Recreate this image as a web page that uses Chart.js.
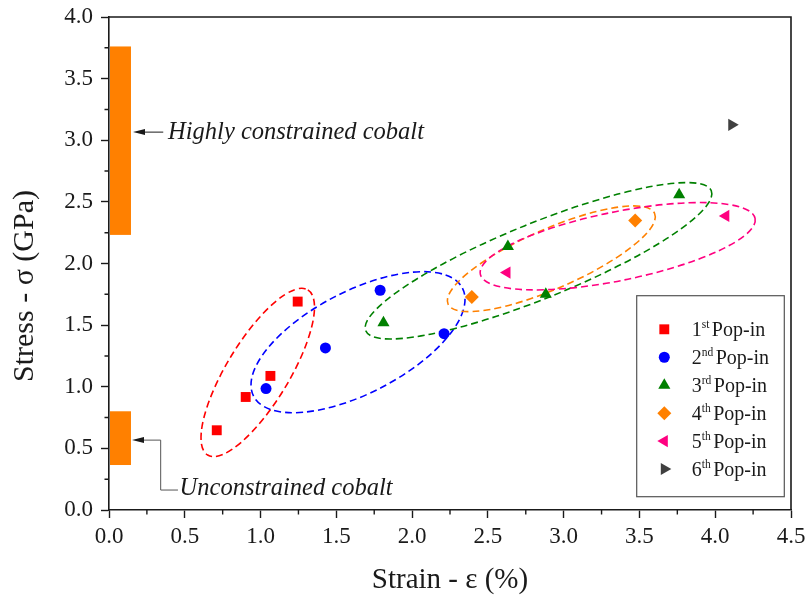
<!DOCTYPE html>
<html>
<head>
<meta charset="utf-8">
<script src="https://cdn.jsdelivr.net/npm/chart.js@4.4.1/dist/chart.umd.min.js"></script>
<style>
html,body{margin:0;padding:0;background:#fff;}
#wrap{width:811px;height:603px;position:relative;}
</style>
</head>
<body>
<div id="wrap"><canvas id="c" width="811" height="603"></canvas></div>
<script>
// ---------- data ----------
const popLabels   = ['1st Pop-in','2nd Pop-in','3rd Pop-in','4th Pop-in','5th Pop-in','6th Pop-in'];
const popOrdinals = ['1','2','3','4','5','6'];
const popSuffixes = ['st','nd','rd','th','th','th'];

const pop1Strain = [0.711, 0.902, 1.065, 1.245];
const pop1Stress = [0.647, 0.917, 1.088, 1.691];
const pop2Strain = [1.036, 1.428, 1.789, 2.211];
const pop2Stress = [0.985, 1.315, 1.783, 1.431];
const pop3Strain = [1.811, 2.632, 2.882, 3.762];
const pop3Stress = [1.520, 2.137, 1.750, 2.557];
const pop4Strain = [2.394, 3.472];
const pop4Stress = [1.729, 2.348];
const pop5Strain = [2.626, 4.070];
const pop5Stress = [1.926, 2.386];
const pop6Strain = [4.109];
const pop6Stress = [3.125];

const strainTicks = [0.0, 0.5, 1.0, 1.5, 2.0, 2.5, 3.0, 3.5, 4.0, 4.5];
const stressTicks = [0.0, 0.5, 1.0, 1.5, 2.0, 2.5, 3.0, 3.5, 4.0];

// stress ranges of the reference bands (GPa) and their strain extent
const constrainedBand   = [2.232, 3.761];
const unconstrainedBand = [0.365, 0.801];
const bandStrain        = [0.0, 0.145];
const constrainedLabel   = 'Highly constrained cobalt';
const unconstrainedLabel = 'Unconstrained cobalt';

// grouping ellipses: major-axis end points (strain, stress) and minor/major ratio
const ellipseStart  = [[0.651,0.446],[0.954,0.923],[1.694,1.454],[2.237,1.671],[2.450,1.914]];
const ellipseEnd    = [[1.312,1.786],[2.332,1.800],[3.974,2.590],[3.600,2.406],[4.263,2.366]];
const ellipseAspect = [0.323, 0.434, 0.202, 0.264, 0.245];

// ---------- styles ----------
const popColors  = ['#ff0000','#0000ff','#008000','#ff8000','#ff0080','#404040'];
const popStyles  = ['rect','circle','triangle','rectRot','triangle','triangle'];
const popRot     = [0, 0, 0, 0, -90, 90];
const popRadius  = [7, 5.5, 7, 7, 7, 7];
const INK = '#1a1a1a';
const SERIF = '"Liberation Serif", "Times New Roman", serif';

const strains = [pop1Strain,pop2Strain,pop3Strain,pop4Strain,pop5Strain,pop6Strain];
const stresses = [pop1Stress,pop2Stress,pop3Stress,pop4Stress,pop5Stress,pop6Stress];

const datasets = strains.map((xs, i) => ({
  label: popLabels[i],
  data: xs.map((v, k) => ({x: v, y: stresses[i][k]})),
  pointStyle: popStyles[i],
  rotation: popRot[i],
  pointRadius: popRadius[i],
  pointHoverRadius: popRadius[i],
  backgroundColor: popColors[i],
  borderColor: popColors[i],
  borderWidth: 0,
  showLine: false
}));

function arrowLeft(ctx, tx, ty) {
  ctx.beginPath();
  ctx.moveTo(tx, ty);
  ctx.lineTo(tx + 12, ty - 3);
  ctx.lineTo(tx + 12, ty + 3);
  ctx.closePath();
  ctx.fill();
}

const decor = {
  id: 'decor',
  beforeDatasetsDraw(chart) {
    const {ctx, scales: {x, y}} = chart;
    ctx.save();
    // orange bands
    ctx.fillStyle = '#ff8000';
    [constrainedBand, unconstrainedBand].forEach(b => {
      const x0 = x.getPixelForValue(bandStrain[0]) + 1;
      const x1 = x.getPixelForValue(bandStrain[1]);
      const yTop = y.getPixelForValue(b[1]);
      const yBot = y.getPixelForValue(b[0]);
      ctx.fillRect(x0, yTop, x1 - x0, yBot - yTop);
    });
    // dashed ellipses
    ctx.setLineDash([7, 4]);
    ctx.lineWidth = 1.6;
    ellipseStart.forEach((s, i) => {
      const e = ellipseEnd[i];
      const ax = x.getPixelForValue(s[0]), ay = y.getPixelForValue(s[1]);
      const bx = x.getPixelForValue(e[0]), by = y.getPixelForValue(e[1]);
      const a = Math.hypot(bx - ax, by - ay) / 2;
      ctx.beginPath();
      ctx.ellipse((ax + bx) / 2, (ay + by) / 2, a, a * ellipseAspect[i], Math.atan2(by - ay, bx - ax), 0, Math.PI * 2);
      ctx.strokeStyle = popColors[i];
      ctx.stroke();
    });
    ctx.restore();
  },
  afterDraw(chart) {
    const {ctx, chartArea: ca, scales: {x, y}} = chart;
    ctx.save();
    // frame top & right
    ctx.strokeStyle = INK;
    ctx.lineWidth = 1.6;
    ctx.beginPath();
    ctx.moveTo(ca.left, ca.top); ctx.lineTo(ca.right, ca.top); ctx.lineTo(ca.right, ca.bottom);
    ctx.stroke();
    // minor ticks
    ctx.lineWidth = 1.4;
    ctx.beginPath();
    for (let i = 0; i < strainTicks.length - 1; i++) {
      const px = x.getPixelForValue((strainTicks[i] + strainTicks[i + 1]) / 2);
      ctx.moveTo(px, ca.bottom); ctx.lineTo(px, ca.bottom + 4.5);
    }
    for (let i = 0; i < stressTicks.length - 1; i++) {
      const py = y.getPixelForValue((stressTicks[i] + stressTicks[i + 1]) / 2);
      ctx.moveTo(ca.left, py); ctx.lineTo(ca.left - 4.5, py);
    }
    ctx.stroke();

    // annotations
    ctx.fillStyle = INK;
    ctx.strokeStyle = INK;
    ctx.lineWidth = 1;
    const bandRight = x.getPixelForValue(bandStrain[1]);
    // highly constrained
    const hy = y.getPixelForValue(3.066);
    arrowLeft(ctx, bandRight + 2, hy);
    ctx.beginPath(); ctx.moveTo(bandRight + 12, hy); ctx.lineTo(x.getPixelForValue(0.358), hy); ctx.stroke();
    ctx.font = 'italic 24.5px ' + SERIF;
    ctx.textBaseline = 'middle';
    ctx.textAlign = 'left';
    ctx.fillText(constrainedLabel, x.getPixelForValue(0.39), hy);
    // unconstrained
    const uy = y.getPixelForValue(0.567);
    const ux = x.getPixelForValue(0.341);
    const uy2 = y.getPixelForValue(0.162);
    ctx.strokeStyle = '#555';
    ctx.beginPath();
    ctx.moveTo(bandRight + 12, uy); ctx.lineTo(ux, uy); ctx.lineTo(ux, uy2); ctx.lineTo(x.getPixelForValue(0.455), uy2);
    ctx.stroke();
    arrowLeft(ctx, bandRight + 1, uy);
    ctx.fillText(unconstrainedLabel, x.getPixelForValue(0.466), uy2 - 1);

    // legend box
    const bx = ca.right - 154.3, by = ca.bottom - 214.3, bw = 147.6, bh = 201;
    ctx.fillStyle = '#fff';
    ctx.fillRect(bx, by, bw, bh);
    ctx.strokeStyle = '#555';
    ctx.lineWidth = 1.2;
    ctx.strokeRect(bx, by, bw, bh);
    popLabels.forEach((lab, i) => {
      const cy = by + 33.6 + i * 27.95;
      ctx.fillStyle = popColors[i];
      ctx.strokeStyle = popColors[i];
      Chart.helpers.drawPoint(ctx, {pointStyle: popStyles[i], rotation: popRot[i], radius: popRadius[i], borderWidth: 0}, bx + 27.6, cy);
      ctx.fillStyle = INK;
      ctx.textBaseline = 'alphabetic';
      let tx = bx + 55;
      const base = cy + 6.5;
      ctx.font = '20px ' + SERIF;
      ctx.fillText(popOrdinals[i], tx, base);
      tx += ctx.measureText(popOrdinals[i]).width;
      ctx.font = '11.5px ' + SERIF;
      ctx.fillText(popSuffixes[i], tx, base - 7.5);
      tx += ctx.measureText(popSuffixes[i]).width + 2.5;
      ctx.font = '20px ' + SERIF;
      ctx.fillText('Pop-in', tx, base);
    });
    ctx.restore();
  }
};

new Chart(document.getElementById('c'), {
  type: 'scatter',
  data: {datasets},
  plugins: [decor],
  options: {
    responsive: false,
    animation: false,
    devicePixelRatio: 1,
    layout: {padding: {left: 0, right: 20, top: 17, bottom: 0}},
    plugins: {legend: {display: false}, tooltip: {enabled: false}},
    scales: {
      x: {
        type: 'linear', min: 0, max: 4.5,
        afterFit(s) { s.height = 93; s.paddingLeft = 0; s.paddingRight = 0; },
        afterBuildTicks(s) { s.ticks = strainTicks.map(v => ({value: v})); },
        border: {display: true, color: INK, width: 1.6},
        grid: {drawOnChartArea: false, drawTicks: true, tickLength: 8, tickColor: INK, tickWidth: 1.4},
        ticks: {padding: 5, color: INK, font: {family: SERIF, size: 23}, callback: v => v.toFixed(1)},
        title: {display: true, text: 'Strain - ε (%)', color: INK, font: {family: SERIF, size: 29}, padding: {top: 0, bottom: 5}}
      },
      y: {
        type: 'linear', min: 0, max: 4,
        afterFit(s) { s.width = 109; s.paddingTop = 0; s.paddingBottom = 0; },
        afterBuildTicks(s) { s.ticks = stressTicks.map(v => ({value: v})); },
        border: {display: true, color: INK, width: 1.6},
        grid: {drawOnChartArea: false, drawTicks: true, tickLength: 8, tickColor: INK, tickWidth: 1.4},
        ticks: {padding: 8, color: INK, font: {family: SERIF, size: 23}, callback: v => v.toFixed(1)},
        title: {display: true, text: 'Stress - σ (GPa)      ', color: INK, font: {family: SERIF, size: 30}, padding: {top: 7, bottom: 0}}
      }
    }
  }
});
</script>
</body>
</html>
